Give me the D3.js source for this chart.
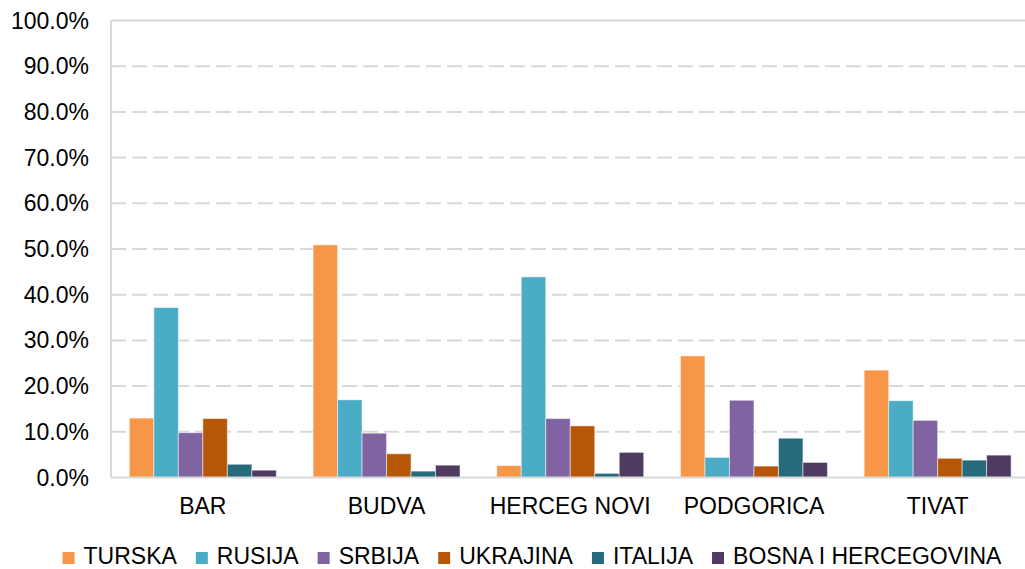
<!DOCTYPE html>
<html>
<head>
<meta charset="utf-8">
<script src="https://cdn.jsdelivr.net/npm/d3@7"></script>
<style>
  body { margin: 0; background: #fff; }
  svg { font-family: "Liberation Sans", Arial, sans-serif; }
</style>
</head>
<body>
<div id="chart"></div>
<script>
// categories and series
var cities = ["BAR", "BUDVA", "HERCEG NOVI", "PODGORICA", "TIVAT"];
var countries = ["TURSKA", "RUSIJA", "SRBIJA", "UKRAJINA", "ITALIJA", "BOSNA I HERCEGOVINA"];
var colors = ["#F79646", "#4BACC6", "#8064A2", "#B65708", "#276A7C", "#4F3B62"];

// share (%) per country, one value per city
var turska   = [13.0, 50.9, 2.6, 26.6, 23.5];
var rusija   = [37.2, 17.0, 43.9, 4.4, 16.8];
var srbija   = [9.8, 9.7, 12.9, 16.9, 12.5];
var ukrajina = [12.9, 5.2, 11.3, 2.5, 4.2];
var italija  = [2.9, 1.4, 0.9, 8.6, 3.8];
var bosna    = [1.6, 2.7, 5.5, 3.3, 4.9];
var yTicks = [0, 10, 20, 30, 40, 50, 60, 70, 80, 90, 100];

var seriesValues = [turska, rusija, srbija, ukrajina, italija, bosna];

var svgWidth = 1025, svgHeight = 569;

var svg = d3.select("#chart")
  .append("svg")
  .attr("width", svgWidth)
  .attr("height", svgHeight);

var plotLeft = 111, plotRight = 1029.5, plotTop = 20.5, plotBottom = 477.5;

var x0 = d3.scaleBand()
  .domain(cities)
  .range([plotLeft, plotRight])
  .paddingInner(0.2)
  .paddingOuter(0.1);

var x1 = d3.scaleBand()
  .domain(countries)
  .range([0, x0.bandwidth()]);

var y = d3.scaleLinear()
  .domain([0, 100])
  .range([plotBottom, plotTop]);

// gridlines
svg.append("g")
  .selectAll("line")
  .data(yTicks.filter(d => d > 0))
  .enter()
  .append("line")
  .attr("x1", plotLeft)
  .attr("x2", svgWidth)
  .attr("y1", d => y(d))
  .attr("y2", d => y(d))
  .attr("stroke", "#d9d9d9")
  .attr("stroke-width", 2)
  .attr("stroke-dasharray", d => d === 100 ? null : "15,6");

// bars
var groups = svg.append("g")
  .selectAll("g")
  .data(cities)
  .enter()
  .append("g")
  .attr("transform", d => `translate(${x0(d)},0)`);

groups.selectAll("rect")
  .data((c, i) => countries.map((k, j) => ({ key: k, value: seriesValues[j][i], color: colors[j] })))
  .enter()
  .append("rect")
  .attr("x", d => x1(d.key))
  .attr("y", d => y(d.value))
  .attr("width", x1.bandwidth())
  .attr("height", d => plotBottom - y(d.value))
  .attr("fill", d => d.color)
  .attr("stroke", "#ffffff")
  .attr("stroke-opacity", 0.5)
  .attr("stroke-width", 1);

// axis lines
svg.append("line")
  .attr("x1", plotLeft).attr("x2", plotLeft)
  .attr("y1", plotTop).attr("y2", plotBottom)
  .attr("stroke", "#d9d9d9").attr("stroke-width", 2);
svg.append("line")
  .attr("x1", plotLeft).attr("x2", svgWidth)
  .attr("y1", plotBottom).attr("y2", plotBottom)
  .attr("stroke", "#d9d9d9").attr("stroke-width", 2);

// y tick labels
svg.append("g")
  .selectAll("text")
  .data(yTicks)
  .enter()
  .append("text")
  .attr("x", 89)
  .attr("y", d => y(d))
  .attr("dy", "0.35em")
  .attr("text-anchor", "end")
  .style("font-size", "23px")
  .style("fill", "#000")
  .text(d => d3.format(".1f")(d) + "%");

// x labels
svg.append("g")
  .selectAll("text")
  .data(cities)
  .enter()
  .append("text")
  .attr("x", d => x0(d) + x0.bandwidth() / 2)
  .attr("y", 514)
  .attr("text-anchor", "middle")
  .style("font-size", "23px")
  .style("fill", "#000")
  .text(d => d);

// legend
var legend = svg.append("g");
var items = legend.selectAll("g")
  .data(countries)
  .enter()
  .append("g");

items.append("rect")
  .attr("width", 12)
  .attr("height", 12)
  .attr("y", 552)
  .attr("fill", (d, i) => colors[i]);

items.append("text")
  .attr("x", 21)
  .attr("y", 564)
  .style("font-size", "23px")
  .style("fill", "#000")
  .text(d => d);

var gap = 19;
var pos = 0;
items.each(function () {
  var g = d3.select(this);
  var w = 21 + g.select("text").node().getComputedTextLength();
  g.attr("transform", `translate(${pos},0)`);
  pos += w + gap;
});
var total = pos - gap;
legend.attr("transform", `translate(${(62 + 1002) / 2 - total / 2},0)`);
</script>
</body>
</html>
